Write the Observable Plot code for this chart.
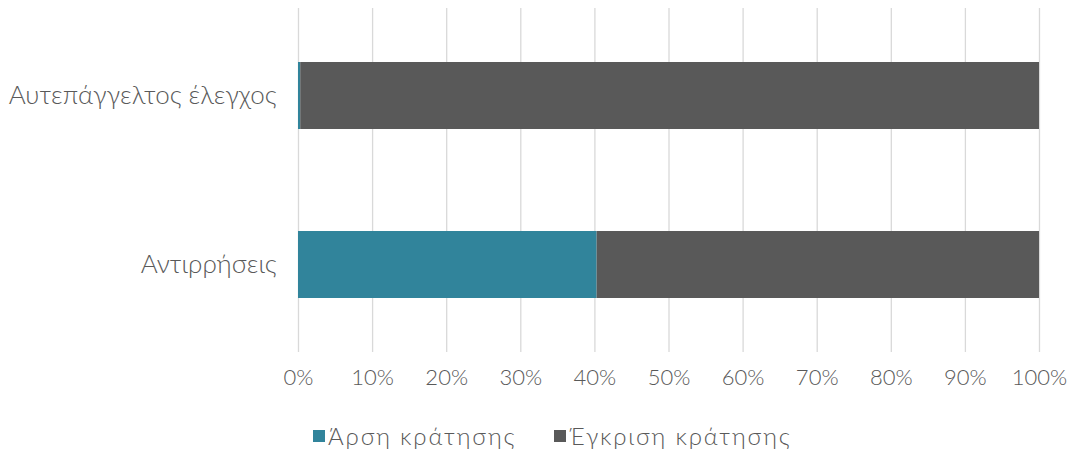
<!DOCTYPE html>
<html>
<head>
<meta charset="utf-8">
<script src="https://cdn.jsdelivr.net/npm/d3@7"></script>
<script src="https://cdn.jsdelivr.net/npm/@observablehq/plot@0.6"></script>
<style>
  body { margin: 0; background: #fff; font-family: "Lato", "Open Sans", sans-serif; }
  #chart svg { display: block; }
  .legend { display: flex; justify-content: flex-start; padding-left: 313px; gap: 38px; margin-top: 12px; color: #595959; font-size: 24px; font-weight: 300; letter-spacing: 1.8px; line-height: 28px; }
  .legend span.item { display: flex; align-items: center; }
  .legend span.sw { width: 12px; height: 12px; display: inline-block; margin-right: 3px; }
</style>
</head>
<body>
<div id="chart"></div>
<div class="legend" id="legend"></div>
<script>
const categories = ["Αυτεπάγγελτος έλεγχος", "Αντιρρήσεις"];
const seriesNames = ["Άρση κράτησης", "Έγκριση κράτησης"];
const arsiValues = [0.3, 40.3];
const egkrisiValues = [99.7, 59.7];
const colors = ["#31849B", "#595959"];
const xTicks = [0, 10, 20, 30, 40, 50, 60, 70, 80, 90, 100];

const data = [];
categories.forEach((c, i) => {
  data.push({category: c, series: seriesNames[0], value: arsiValues[i]});
  data.push({category: c, series: seriesNames[1], value: egkrisiValues[i]});
});

const chart = Plot.plot({
  width: 1073,
  height: 410,
  marginLeft: 298,
  marginRight: 34,
  marginTop: 11,
  marginBottom: 61,
  style: {fontFamily: "Lato, 'Open Sans', sans-serif", color: "#595959", background: "#fff"},
  x: {domain: [0, 100], ticks: xTicks, tickFormat: d => d + "%", label: null},
  y: {domain: categories, paddingInner: 0.604, paddingOuter: 0.302, label: null},
  color: {domain: seriesNames, range: colors},
  marks: [
    Plot.ruleX(xTicks, {stroke: "#d9d9d9", strokeWidth: 1.3, insetTop: -3, insetBottom: -3}),
    Plot.barX(data, Plot.stackX({y: "category", x: "value", fill: "series", order: seriesNames})),
    Plot.axisX({ticks: xTicks, tickFormat: d => d + "%", tickSize: 0, tickPadding: 20, fontSize: 22, fontWeight: 300, fill: "#595959", label: null}),
    Plot.axisY({tickSize: 0, tickPadding: 22, fontSize: 26, fontWeight: 300, fill: "#595959", label: null})
  ]
});
document.getElementById("chart").appendChild(chart);

const legend = document.getElementById("legend");
seriesNames.forEach((s, i) => {
  const item = document.createElement("span");
  item.className = "item";
  const sw = document.createElement("span");
  sw.className = "sw";
  sw.style.background = colors[i];
  item.appendChild(sw);
  item.appendChild(document.createTextNode(s));
  legend.appendChild(item);
});
</script>
</body>
</html>
